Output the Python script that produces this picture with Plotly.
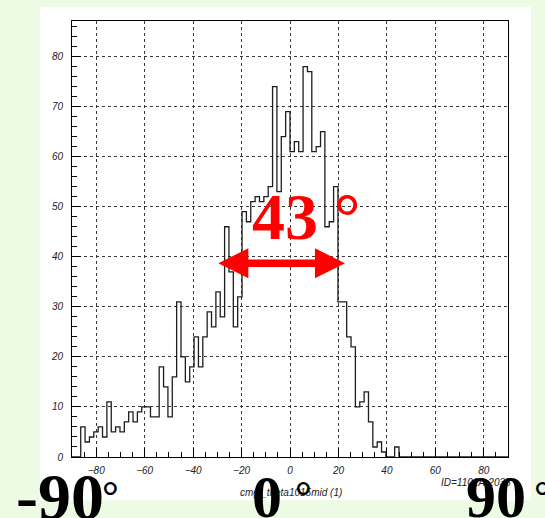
import numpy as np
import plotly.graph_objects as go

# Histogram contents: 100 bins spanning -90..90 degrees
bin_counts = [0, 0, 6, 3, 4, 5, 6, 4, 11, 5, 6, 5, 7, 9, 7, 9, 10, 10, 8, 8,
              18, 14, 8, 16, 31, 20, 15, 18, 24, 18, 24, 29, 26, 33, 28, 46, 37, 26, 32, 49,
              47, 51, 52, 51, 52, 54, 74, 53, 64, 69, 61, 63, 61, 78, 77, 61, 62, 65, 46, 47,
              54, 31, 31, 24, 22, 10, 11, 13, 7, 2, 3, 1, 0, 0, 2] + [0] * 25
hist_range = [-90, 90]
y_range = [0, 87.1]
x_ticks = [-80, -60, -40, -20, 0, 20, 40, 60, 80]
y_ticks = [0, 10, 20, 30, 40, 50, 60, 70, 80]

# Width marker
width_label = "43"
arrow_ends = [-29.6, 22.7]
arrow_level = 38.7

# Big angle captions under the axis
angle_captions = ["-90", "0", "90"]

edges = np.linspace(hist_range[0], hist_range[1], len(bin_counts) + 1)
step_y = list(bin_counts) + [bin_counts[-1]]

fig = go.Figure()
fig.add_trace(go.Scatter(
    x=edges, y=step_y, mode="lines", line_shape="hv",
    line=dict(color="#1e1e1e", width=1.3), hoverinfo="skip", showlegend=False,
))

# Frame geometry (pixels) used to convert pixel placement into paper units
W, H = 545, 518
L, R, T, B = 72, 508, 21, 456.7


def px(p):
    return (p - L) / (R - L)


def py(q):
    return (B - q) / (B - T)


shapes = []
# White panel behind the histogram
shapes.append(dict(type="rect", xref="paper", yref="paper",
                   x0=px(40), x1=px(531), y0=py(500), y1=py(7),
                   fillcolor="white", line=dict(width=0), layer="below"))

# Double-headed red arrow, in data units
xl, xr = arrow_ends
head_len = 12.4
head_half = 3.0
shaft_half = 0.75
yc = arrow_level
path = (f"M {xl},{yc} L {xl + head_len},{yc + head_half} L {xl + head_len},{yc + shaft_half} "
        f"L {xr - head_len},{yc + shaft_half} L {xr - head_len},{yc + head_half} L {xr},{yc} "
        f"L {xr - head_len},{yc - head_half} L {xr - head_len},{yc - shaft_half} "
        f"L {xl + head_len},{yc - shaft_half} L {xl + head_len},{yc - head_half} Z")
shapes.append(dict(type="path", xref="x", yref="y", path=path,
                   fillcolor="#ff0000", line=dict(width=0), layer="above"))

annotations = []
tick_font = dict(family="Liberation Sans", size=10, color="#222", style="italic")

annotations.append(dict(text="cmgl_theta1015mid (1)", xref="paper", yref="paper",
                        x=px(291), y=py(492), xanchor="center", yanchor="middle",
                        showarrow=False, font=dict(family="Liberation Sans", size=10,
                                                   color="#222", style="italic")))
annotations.append(dict(text="ID=1101A-2035", xref="paper", yref="paper",
                        x=px(513), y=py(482), xanchor="right", yanchor="middle",
                        showarrow=False, font=dict(family="Liberation Sans", size=10,
                                                   color="#222", style="italic")))

# (text centre x, degree-ring x, font size, text centre y)
caption_pos = [(60, 110, 66, 495.7), (267, 303, 60, 497), (496, 542, 60, 497)]
deg_font = dict(family="Liberation Serif", size=42, color="black", weight="bold")
for txt, (cx, dx, size, cy) in zip(angle_captions, caption_pos):
    annotations.append(dict(text=txt, xref="paper", yref="paper", x=px(cx), y=py(cy),
                            xanchor="center", yanchor="middle", showarrow=False,
                            font=dict(family="Liberation Serif", size=size,
                                      color="black", weight="bold")))
    annotations.append(dict(text="°", xref="paper", yref="paper", x=px(dx), y=py(496),
                            xanchor="center", yanchor="middle", showarrow=False,
                            font=deg_font))

red_font = dict(family="Liberation Serif", size=66, color="#ff0000", weight="bold")
annotations.append(dict(text=width_label, xref="paper", yref="paper", x=px(285), y=py(216),
                        xanchor="center", yanchor="middle", showarrow=False, font=red_font))
annotations.append(dict(text="°", xref="paper", yref="paper", x=px(347), y=py(216),
                        xanchor="center", yanchor="middle", showarrow=False, font=red_font))

axis_common = dict(
    showline=True, mirror=True, linecolor="black", linewidth=1,
    ticks="inside", ticklen=9, tickcolor="black", tickwidth=1,
    showgrid=True, gridcolor="#3a3a3a", griddash="dot", gridwidth=1,
    zeroline=False, tickfont=tick_font,
)

fig.update_layout(
    width=W, height=H,
    margin=dict(l=L, r=W - R, t=T, b=H - B),
    paper_bgcolor="#edfbe5", plot_bgcolor="rgba(0,0,0,0)",
    showlegend=False,
    xaxis=dict(range=hist_range, tickvals=x_ticks, ticklabelstandoff=4,
               minor=dict(dtick=5, tick0=0, ticks="inside", ticklen=5, tickcolor="black",
                          showgrid=False),
               **axis_common),
    yaxis=dict(range=y_range, tickvals=y_ticks, ticklabelstandoff=6,
               minor=dict(dtick=2, tick0=0, ticks="inside", ticklen=5, tickcolor="black",
                          showgrid=False),
               **axis_common),
    shapes=shapes,
    annotations=annotations,
)

fig.write_html("out.html")
